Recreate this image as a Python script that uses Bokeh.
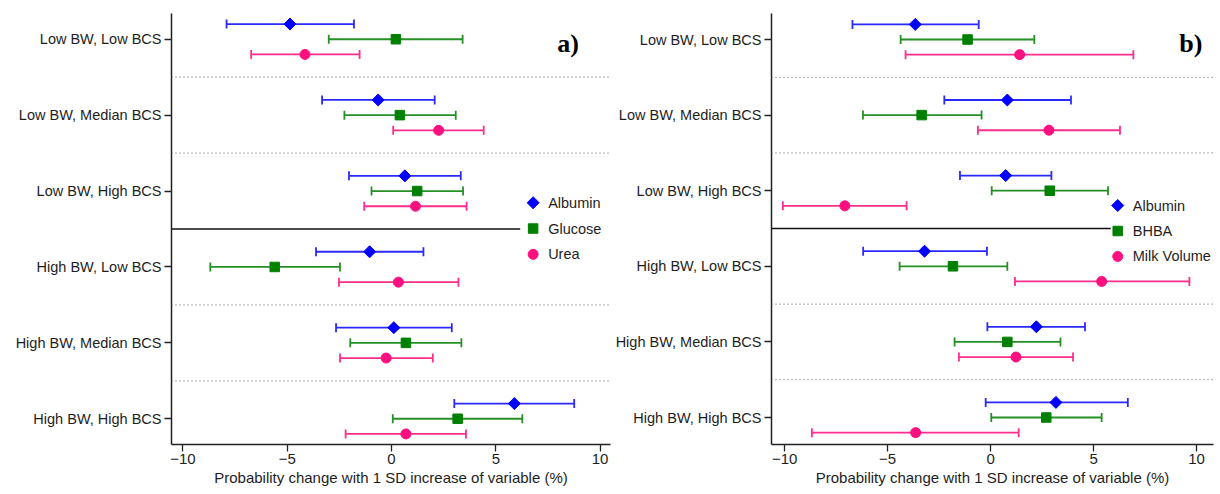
import math
from bokeh.plotting import figure
from bokeh.layouts import row
from bokeh.models import Whisker, TeeHead, ColumnDataSource, Span, Label, FixedTicker, Range1d
from bokeh.embed import file_html
from bokeh.resources import INLINE

categories = ["Low BW, Low BCS", "Low BW, Median BCS", "Low BW, High BCS",
              "High BW, Low BCS", "High BW, Median BCS", "High BW, High BCS"]

# Panel a)
a_albumin = [-4.87, -0.64, 0.64, -1.05, 0.11, 5.89]
a_albumin_lo = [-7.91, -3.33, -2.04, -3.62, -2.66, 3.01]
a_albumin_hi = [-1.80, 2.07, 3.32, 1.53, 2.89, 8.76]
a_glucose = [0.21, 0.40, 1.23, -5.60, 0.69, 3.17]
a_glucose_lo = [-3.01, -2.26, -0.96, -8.69, -1.98, 0.06]
a_glucose_hi = [3.41, 3.08, 3.43, -2.47, 3.35, 6.27]
a_urea = [-4.15, 2.26, 1.15, 0.33, -0.26, 0.69]
a_urea_lo = [-6.73, 0.08, -1.31, -2.52, -2.47, -2.20]
a_urea_hi = [-1.53, 4.42, 3.60, 3.21, 1.98, 3.57]

# Panel b)
b_albumin = [-3.66, 0.81, 0.73, -3.21, 2.22, 3.17]
b_albumin_lo = [-6.71, -2.25, -1.49, -6.19, -0.16, -0.24]
b_albumin_hi = [-0.58, 3.90, 2.95, -0.18, 4.58, 6.66]
b_bhba = [-1.12, -3.35, 2.87, -1.83, 0.81, 2.70]
b_bhba_lo = [-4.37, -6.20, 0.05, -4.42, -1.75, 0.03]
b_bhba_hi = [2.12, -0.44, 5.70, 0.81, 3.39, 5.39]
b_milk = [1.41, 2.83, -7.08, 5.39, 1.23, -3.64]
b_milk_lo = [-4.13, -0.62, -10.09, 1.18, -1.54, -8.68]
b_milk_hi = [6.93, 6.28, -4.08, 9.65, 4.00, 1.36]

x_ticks = [-10, -5, 0, 5, 10]
x_label = "Probability change with 1 SD increase of variable (%)"

FONT = "Liberation Sans"
BLUE, BLUE_L = "#0000ff", "#2a2aff"
GREEN, GREEN_L = "#008000", "#259025"
PINK, PINK_L = "#ff1080", "#ff2d8c"
TXT = "#1e1e1e"

ypos = [6 - i for i in range(len(categories))]


def panel(series, tag, width, height, border_left, border_right, border_bottom,
          xr, yr, solid_end, legend_xy, tag_xy):
    p = figure(width=width, height=height, output_backend="svg", toolbar_location=None,
               x_range=Range1d(*xr), y_range=Range1d(*yr),
               min_border_left=border_left, min_border_right=border_right,
               min_border_top=13, min_border_bottom=border_bottom)
    p.outline_line_color = None
    p.xgrid.visible = False
    p.ygrid.visible = False
    p.background_fill_color = "white"
    p.border_fill_color = "white"

    for loc in [5.5, 4.5, 2.5, 1.5]:
        p.add_layout(Span(location=loc, dimension="width", line_color="#777777",
                          line_width=1.2, line_dash="1 3"))
    p.segment(x0=xr[0], x1=solid_end, y0=3.5, y1=3.5, line_color="#111111", line_width=1.6)

    for name, vals, lo, hi, marker, size, color, lcolor, off in series:
        ys = [y + off for y in ypos]
        src = ColumnDataSource(dict(x=vals, lo=lo, hi=hi, y=ys))
        w = Whisker(source=src, base="y", lower="lo", upper="hi", dimension="width",
                    line_color=lcolor, line_width=1.8,
                    lower_head=TeeHead(size=9, line_color=lcolor, line_width=1.8),
                    upper_head=TeeHead(size=9, line_color=lcolor, line_width=1.8))
        p.add_layout(w)
        ang = math.pi / 4 if marker == "diamond" else 0
        mk = "square" if marker in ("diamond", "square") else marker
        p.scatter(x="x", y="y", source=src, marker=mk, size=size, angle=ang,
                  fill_color=color, line_color=color)

    # legend (manual)
    lx, ly0, dy, tx = legend_xy
    for i, (name, vals, lo, hi, marker, size, color, lcolor, off) in enumerate(series):
        ang = math.pi / 4 if marker == "diamond" else 0
        mk = "square" if marker in ("diamond", "square") else marker
        p.scatter(x=[lx], y=[ly0 - i * dy], marker=mk, size=size, angle=ang,
                  fill_color=color, line_color=color)
        p.add_layout(Label(x=tx, y=ly0 - i * dy, text=name, text_font=FONT,
                           text_font_size="14.5px", text_color=TXT, text_baseline="middle"))

    p.add_layout(Label(x=tag_xy[0], y=tag_xy[1], text=tag, text_font="Liberation Serif",
                       text_font_style="bold", text_font_size="26px", text_color="#000000",
                       text_align="center", text_baseline="middle"))

    p.yaxis.ticker = FixedTicker(ticks=ypos)
    p.yaxis.major_label_overrides = {y: c for y, c in zip(ypos, categories)}
    p.xaxis.ticker = FixedTicker(ticks=x_ticks)
    p.xaxis.axis_label = x_label
    for ax in (p.xaxis[0], p.yaxis[0]):
        ax.axis_line_color = "#222222"
        ax.axis_line_width = 1.5
        ax.major_tick_line_color = "#222222"
        ax.major_tick_line_width = 1.3
        ax.major_tick_out = 7
        ax.major_tick_in = 0
        ax.minor_tick_line_color = None
        ax.major_label_text_font = FONT
        ax.major_label_text_font_size = "15px"
        ax.major_label_text_color = TXT
        ax.axis_label_text_font = FONT
        ax.axis_label_text_font_size = "15px"
        ax.axis_label_text_font_style = "normal"
        ax.axis_label_text_color = TXT
    p.yaxis.major_label_text_font_size = "14.5px"
    p.xaxis.major_label_standoff = 2
    p.xaxis.axis_label_standoff = 2
    p.yaxis.major_label_standoff = 3
    return p


series_a = [("Albumin", a_albumin, a_albumin_lo, a_albumin_hi, "diamond", 8.5, BLUE, BLUE_L, 0.2),
            ("Glucose", a_glucose, a_glucose_lo, a_glucose_hi, "square", 9.5, GREEN, GREEN_L, 0.0),
            ("Urea", a_urea, a_urea_lo, a_urea_hi, "circle", 10, PINK, PINK_L, -0.2)]
series_b = [("Albumin", b_albumin, b_albumin_lo, b_albumin_hi, "diamond", 8.5, BLUE, BLUE_L, 0.2),
            ("BHBA", b_bhba, b_bhba_lo, b_bhba_hi, "square", 9.5, GREEN, GREEN_L, 0.0),
            ("Milk Volume", b_milk, b_milk_lo, b_milk_hi, "circle", 10, PINK, PINK_L, -0.2)]

p1 = panel(series_a, "a)", 612, 494, 171, 2, 46, (-10.55, 10.5), (0.661, 6.339), 6.17,
           (6.79, 3.846, 0.34, 7.51), (8.47, 5.95))
p2 = panel(series_b, "b)", 608, 494, 159, 7, 50, (-10.64, 10.82), (0.643, 6.344), 5.83,
           (6.17, 3.804, 0.337, 6.90), (9.72, 5.95))

layout = row(p1, p2)
open("out.html", "w").write(file_html(layout, INLINE))
